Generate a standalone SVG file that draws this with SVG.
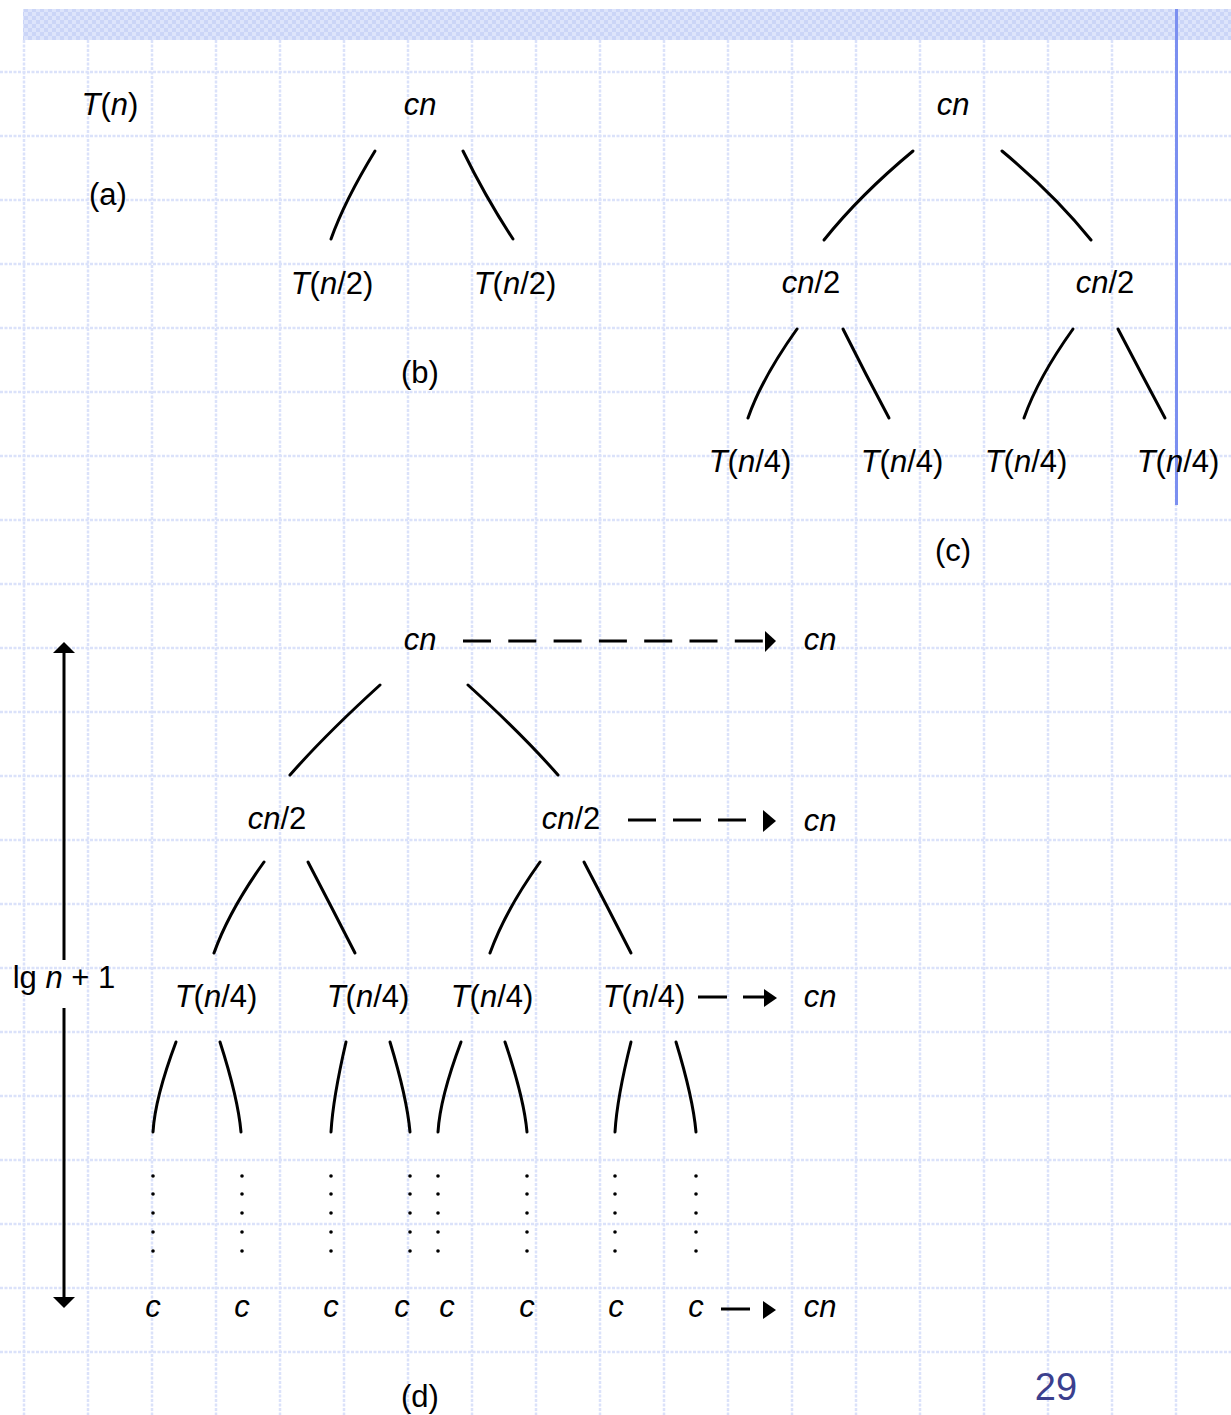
<svg xmlns="http://www.w3.org/2000/svg" width="1231" height="1415" viewBox="0 0 1231 1415">
<defs>
<pattern id="chk" x="0" y="0" width="8" height="8" patternUnits="userSpaceOnUse">
<rect width="8" height="8" fill="#dde4fb"/>
<rect x="0" y="0" width="4" height="4" fill="#cbd5f7"/>
<rect x="4" y="4" width="4" height="4" fill="#cbd5f7"/>
</pattern>
<style>
.grid{stroke:#dbe2fa;stroke-width:2.5;stroke-dasharray:3 1.5;fill:none}
.t{font-family:"Liberation Sans",Arial,sans-serif;font-size:31px;fill:#000;text-anchor:middle}
.i{font-style:italic}
.e{stroke:#000;stroke-width:3;fill:none;stroke-linecap:round}
.d{stroke:#000;stroke-width:3;fill:none;stroke-linecap:butt}
.h{fill:#000;stroke:none}
.dot{fill:#000}
</style>
</defs>
<rect width="1231" height="1415" fill="#fff"/>
<g id="grid">
<path class="grid" d="M0,72H1231M0,136H1231M0,200H1231M0,264H1231M0,328H1231M0,392H1231M0,456H1231M0,520H1231M0,584H1231M0,648H1231M0,712H1231M0,776H1231M0,840H1231M0,904H1231M0,968H1231M0,1032H1231M0,1096H1231M0,1160H1231M0,1224H1231M0,1288H1231M0,1352H1231"/>
<path class="grid" d="M24,40V1415M88,40V1415M152,40V1415M216,40V1415M280,40V1415M344,40V1415M408,40V1415M472,40V1415M536,40V1415M600,40V1415M664,40V1415M728,40V1415M792,40V1415M856,40V1415M920,40V1415M984,40V1415M1048,40V1415M1112,40V1415M1176,40V1415"/>
<rect x="23" y="9" width="1208" height="31" fill="url(#chk)"/>
<rect x="1175" y="9" width="3" height="496" fill="#7b8ff0"/>
</g>

<g id="connectors">
<!-- (b) -->
<path class="e" d="M375,151 Q345,200 331,239"/>
<path class="e" d="M463,151 Q486,198 513,239"/>
<!-- (c) -->
<path class="e" d="M913,151 Q860,195 824,240"/>
<path class="e" d="M1002,151 Q1055,195 1091,240"/>
<path class="e" d="M797,329 Q762,378 748,418"/>
<path class="e" d="M843,329 Q866,375 889,418"/>
<path class="e" d="M1073,329 Q1038,378 1024,418"/>
<path class="e" d="M1118,329 Q1142,375 1165,418"/>
<!-- (d) -->
<path class="e" d="M380,685 Q325,735 290,775"/>
<path class="e" d="M468,685 Q523,735 558,775"/>
<path class="e" d="M264,862 Q229,911 214,953"/>
<path class="e" d="M308,862 Q332,908 355,953"/>
<path class="e" d="M540,862 Q505,911 490,953"/>
<path class="e" d="M584,862 Q608,908 631,953"/>
<path class="e" d="M176,1042 Q155,1098 153,1132"/>
<path class="e" d="M220,1042 Q238,1098 241,1132"/>
<path class="e" d="M346,1042 Q333,1098 331,1132"/>
<path class="e" d="M390,1042 Q407,1098 410,1132"/>
<path class="e" d="M461,1042 Q440,1098 438,1132"/>
<path class="e" d="M505,1042 Q524,1098 527,1132"/>
<path class="e" d="M631,1042 Q617,1098 615,1132"/>
<path class="e" d="M676,1042 Q693,1098 696,1132"/>
<!-- dashed cost arrows -->
<path class="d" d="M463,641H765" stroke-dasharray="28 17.3"/>
<polygon class="h" points="765,631 776,641 765,652"/>
<path class="d" d="M628,820H763" stroke-dasharray="28 17"/>
<polygon class="h" points="763,810 776,821 763,832"/>
<path class="d" d="M698,997H766" stroke-dasharray="29 16"/>
<polygon class="h" points="764,989 777,998 764,1007"/>
<path class="d" d="M721,1309H750"/>
<polygon class="h" points="763,1301 776,1310 763,1319"/>
<!-- height arrow -->
<path class="d" d="M64,652V960M64,1008V1298"/>
<polygon class="h" points="64,642 75,653 53,653"/>
<polygon class="h" points="64,1308 75,1297 53,1297"/>
<!-- dots -->
<g class="dot">
<circle cx="153" cy="1176" r="1.8"/><circle cx="153" cy="1194" r="1.8"/><circle cx="153" cy="1213" r="1.8"/><circle cx="153" cy="1232" r="1.8"/><circle cx="153" cy="1251" r="1.8"/>
<circle cx="242" cy="1176" r="1.8"/><circle cx="242" cy="1194" r="1.8"/><circle cx="242" cy="1213" r="1.8"/><circle cx="242" cy="1232" r="1.8"/><circle cx="242" cy="1251" r="1.8"/>
<circle cx="331" cy="1176" r="1.8"/><circle cx="331" cy="1194" r="1.8"/><circle cx="331" cy="1213" r="1.8"/><circle cx="331" cy="1232" r="1.8"/><circle cx="331" cy="1251" r="1.8"/>
<circle cx="410" cy="1176" r="1.8"/><circle cx="410" cy="1194" r="1.8"/><circle cx="410" cy="1213" r="1.8"/><circle cx="410" cy="1232" r="1.8"/><circle cx="410" cy="1251" r="1.8"/>
<circle cx="438" cy="1176" r="1.8"/><circle cx="438" cy="1194" r="1.8"/><circle cx="438" cy="1213" r="1.8"/><circle cx="438" cy="1232" r="1.8"/><circle cx="438" cy="1251" r="1.8"/>
<circle cx="527" cy="1176" r="1.8"/><circle cx="527" cy="1194" r="1.8"/><circle cx="527" cy="1213" r="1.8"/><circle cx="527" cy="1232" r="1.8"/><circle cx="527" cy="1251" r="1.8"/>
<circle cx="615" cy="1176" r="1.8"/><circle cx="615" cy="1194" r="1.8"/><circle cx="615" cy="1213" r="1.8"/><circle cx="615" cy="1232" r="1.8"/><circle cx="615" cy="1251" r="1.8"/>
<circle cx="696" cy="1176" r="1.8"/><circle cx="696" cy="1194" r="1.8"/><circle cx="696" cy="1213" r="1.8"/><circle cx="696" cy="1232" r="1.8"/><circle cx="696" cy="1251" r="1.8"/>
</g>
</g>

<!-- (a) -->
<g id="a-Tn"><text class="t" x="110" y="115"><tspan class="i">T</tspan>(<tspan class="i">n</tspan>)</text></g>
<g id="a-label"><text class="t" x="108" y="205">(a)</text></g>

<!-- (b) -->
<g id="b-root"><text class="t i" x="420" y="115">cn</text></g>
<g id="b-l"><text class="t" x="332" y="294"><tspan class="i">T</tspan>(<tspan class="i">n</tspan>/2)</text></g>
<g id="b-r"><text class="t" x="515" y="294"><tspan class="i">T</tspan>(<tspan class="i">n</tspan>/2)</text></g>
<g id="b-label"><text class="t" x="420" y="383">(b)</text></g>

<!-- (c) -->
<g id="c-root"><text class="t i" x="953" y="115">cn</text></g>
<g id="c-l"><text class="t" x="811" y="293"><tspan class="i">cn</tspan>/2</text></g>
<g id="c-r"><text class="t" x="1105" y="293"><tspan class="i">cn</tspan>/2</text></g>
<g id="c-ll"><text class="t" x="750" y="472"><tspan class="i">T</tspan>(<tspan class="i">n</tspan>/4)</text></g>
<g id="c-lr"><text class="t" x="902" y="472"><tspan class="i">T</tspan>(<tspan class="i">n</tspan>/4)</text></g>
<g id="c-rl"><text class="t" x="1026" y="472"><tspan class="i">T</tspan>(<tspan class="i">n</tspan>/4)</text></g>
<g id="c-rr"><text class="t" x="1178" y="472"><tspan class="i">T</tspan>(<tspan class="i">n</tspan>/4)</text></g>
<g id="c-label"><text class="t" x="953" y="561">(c)</text></g>

<!-- (d) -->
<g id="d-root"><text class="t i" x="420" y="650">cn</text></g>
<g id="d-sum1"><text class="t i" x="820" y="650">cn</text></g>
<g id="d-l"><text class="t" x="277" y="829"><tspan class="i">cn</tspan>/2</text></g>
<g id="d-r"><text class="t" x="571" y="829"><tspan class="i">cn</tspan>/2</text></g>
<g id="d-sum2"><text class="t i" x="820" y="831">cn</text></g>
<g id="d-ll"><text class="t" x="216" y="1007"><tspan class="i">T</tspan>(<tspan class="i">n</tspan>/4)</text></g>
<g id="d-lr"><text class="t" x="368" y="1007"><tspan class="i">T</tspan>(<tspan class="i">n</tspan>/4)</text></g>
<g id="d-rl"><text class="t" x="492" y="1007"><tspan class="i">T</tspan>(<tspan class="i">n</tspan>/4)</text></g>
<g id="d-rr"><text class="t" x="644" y="1007"><tspan class="i">T</tspan>(<tspan class="i">n</tspan>/4)</text></g>
<g id="d-sum3"><text class="t i" x="820" y="1007">cn</text></g>
<g id="d-leaves">
<text class="t i" x="153" y="1317">c</text>
<text class="t i" x="242" y="1317">c</text>
<text class="t i" x="331" y="1317">c</text>
<text class="t i" x="402" y="1317">c</text>
<text class="t i" x="447" y="1317">c</text>
<text class="t i" x="527" y="1317">c</text>
<text class="t i" x="616" y="1317">c</text>
<text class="t i" x="696" y="1317">c</text>
</g>
<g id="d-sum4"><text class="t i" x="820" y="1317">cn</text></g>
<g id="d-height"><text class="t" x="64" y="988">lg <tspan class="i">n</tspan> + 1</text></g>
<g id="d-label"><text class="t" x="420" y="1407">(d)</text></g>

<g id="page"><text x="1056" y="1400" style="font-family:'Liberation Sans',Arial,sans-serif;font-size:38px;fill:#3b3f8e;text-anchor:middle">29</text></g>
</svg>
